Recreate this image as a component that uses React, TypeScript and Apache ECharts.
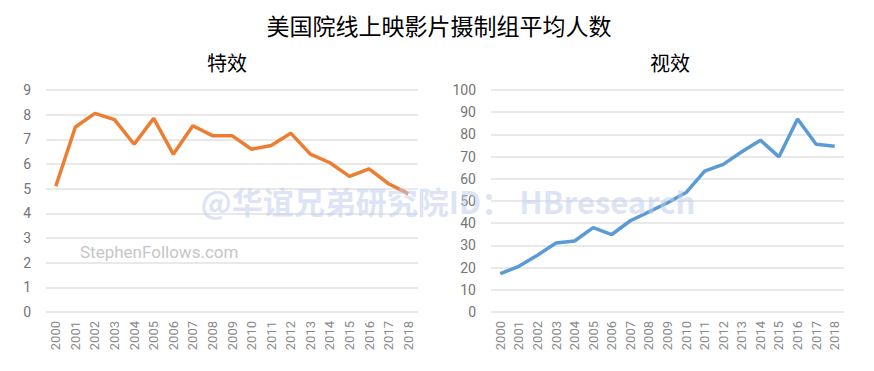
import React, { useEffect, useRef } from "react";
import * as echarts from "echarts";

const years = ["2000","2001","2002","2003","2004","2005","2006","2007","2008","2009","2010","2011","2012","2013","2014","2015","2016","2017","2018"];
const specialEffects = [5.1, 7.5, 8.05, 7.8, 6.8, 7.85, 6.4, 7.55, 7.15, 7.15, 6.6, 6.75, 7.25, 6.4, 6.05, 5.5, 5.8, 5.2, 4.8];
const visualEffects = [17.3, 20.6, 25.6, 31.1, 32.0, 38.0, 34.9, 41.1, 45.1, 49.2, 53.8, 63.5, 66.5, 72.2, 77.4, 69.9, 86.9, 75.6, 74.7];
const mainTitle = "美国院线上映影片摄制组平均人数";
const leftTitle = "特效";
const rightTitle = "视效";
const sourceText = "StephenFollows.com";
const watermark = "@华谊兄弟研究院ID： HBresearch";

const CJK = '"Noto Sans CJK SC", "Noto Sans", sans-serif';
const NUM = 'Roboto, "Noto Sans", sans-serif';

export default function App() {
  const ref = useRef<HTMLDivElement>(null);
  useEffect(() => {
    if (!ref.current) return;
    const chart = echarts.init(ref.current, undefined, { renderer: "svg" });
    const xAxisBase = (gridIndex: number) => ({
      type: "category" as const,
      gridIndex,
      data: years,
      boundaryGap: true,
      axisLine: { show: false },
      axisTick: { show: false },
      axisLabel: { rotate: 90, color: "#8a8a8a", fontSize: 13, fontFamily: NUM, margin: 9 },
    });
    const yAxisBase = (gridIndex: number, max: number, interval: number) => ({
      type: "value" as const,
      gridIndex,
      min: 0,
      max,
      interval,
      axisLine: { show: false },
      axisTick: { show: false },
      axisLabel: { color: "#757575", fontSize: 14, fontFamily: NUM, margin: 15 },
      splitLine: { show: true, lineStyle: { color: "#e2e2e2", width: 1.5 } },
    });
    chart.setOption({
      animation: false,
      backgroundColor: "#ffffff",
      grid: [
        { left: 46, width: 372, top: 90, height: 222 },
        { left: 491, width: 353, top: 90, height: 222 },
      ],
      xAxis: [xAxisBase(0), xAxisBase(1)],
      yAxis: [yAxisBase(0, 9, 1), yAxisBase(1, 100, 10)],
      series: [
        {
          type: "line",
          name: leftTitle,
          xAxisIndex: 0,
          yAxisIndex: 0,
          data: specialEffects,
          symbol: "none",
          lineStyle: { color: "#ed7d31", width: 3.5 },
          itemStyle: { color: "#ed7d31" },
          z: 3,
        },
        {
          type: "line",
          name: rightTitle,
          xAxisIndex: 1,
          yAxisIndex: 1,
          data: visualEffects,
          symbol: "none",
          lineStyle: { color: "#5b9bd5", width: 3.5 },
          itemStyle: { color: "#5b9bd5" },
          z: 3,
        },
      ],
      graphic: [
        {
          type: "text",
          x: 439,
          y: 25,
          style: { text: mainTitle, fill: "#000", fontSize: 23, fontFamily: CJK, textAlign: "center", textVerticalAlign: "middle" },
        },
        {
          type: "text",
          x: 227,
          y: 62,
          style: { text: leftTitle, fill: "#000", fontSize: 20, fontFamily: CJK, textAlign: "center", textVerticalAlign: "middle" },
        },
        {
          type: "text",
          x: 670,
          y: 62,
          style: { text: rightTitle, fill: "#000", fontSize: 20, fontFamily: CJK, textAlign: "center", textVerticalAlign: "middle" },
        },
        {
          type: "text",
          x: 80,
          y: 252,
          z: 1,
          style: { text: sourceText, fill: "#c6c6c6", fontSize: 17, fontFamily: NUM, textAlign: "left", textVerticalAlign: "middle" },
        },
        {
          type: "text",
          x: 448,
          y: 200,
          z: 100,
          style: { text: watermark, fill: "rgba(190,206,238,0.55)", fontSize: 31, fontWeight: "bold", fontFamily: CJK, textAlign: "center", textVerticalAlign: "middle" },
        },
      ],
    });
    return () => chart.dispose();
  }, []);
  return <div ref={ref} style={{ position: "fixed", left: 0, top: 0, width: 874, height: 371 }} />;
}
